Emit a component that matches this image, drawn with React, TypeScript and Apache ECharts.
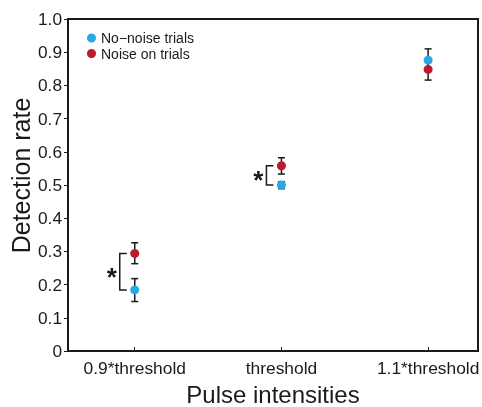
import React, { useEffect, useRef } from "react";
import * as echarts from "echarts";

const categories = ["0.9*threshold", "threshold", "1.1*threshold"];
const categoryPositions = [1, 2, 3];
const noNoiseValues = [0.184, 0.5, 0.876];
const noNoiseLow = [0.149, 0.489, 0.845];
const noNoiseHigh = [0.218, 0.51, 0.91];
const noiseValues = [0.294, 0.558, 0.848];
const noiseLow = [0.263, 0.533, 0.816];
const noiseHigh = [0.326, 0.582, 0.878];
// significance brackets: [category position, lower y, upper y]
const brackets = [
  [1, 0.184, 0.294],
  [2, 0.5, 0.558],
];

const BLUE = "#2aa9e0";
const RED = "#bd1b2b";
const FONT = "Liberation Sans, Arial, Helvetica, sans-serif";

export default function App() {
  const ref = useRef<HTMLDivElement>(null);
  useEffect(() => {
    const chart = echarts.init(ref.current!, null, { renderer: "svg" });
    const errData = [
      ...categoryPositions.map((x, i) => [x, noNoiseLow[i], noNoiseHigh[i]]),
      ...categoryPositions.map((x, i) => [x, noiseLow[i], noiseHigh[i]]),
    ];
    const errRender = (params: any, api: any) => {
      const x = api.value(0);
      const lo = api.coord([x, api.value(1)]);
      const hi = api.coord([x, api.value(2)]);
      const hw = 3.5;
      const style = { stroke: "#1a1a1a", lineWidth: 1.5 };
      return {
        type: "group",
        children: [
          { type: "line", shape: { x1: lo[0], y1: lo[1], x2: hi[0], y2: hi[1] }, style },
          { type: "line", shape: { x1: lo[0] - hw, y1: lo[1], x2: lo[0] + hw, y2: lo[1] }, style },
          { type: "line", shape: { x1: hi[0] - hw, y1: hi[1], x2: hi[0] + hw, y2: hi[1] }, style },
        ],
      };
    };
    const bracketRender = (params: any, api: any) => {
      const x = api.value(0);
      const lo = api.coord([x, api.value(1)]);
      const hi = api.coord([x, api.value(2)]);
      const vx = lo[0] - 15;
      const hx = lo[0] - 8;
      const style = { stroke: "#1a1a1a", lineWidth: 1.5, fill: "none" };
      return {
        type: "group",
        children: [
          {
            type: "polyline",
            shape: { points: [[hx, hi[1]], [vx, hi[1]], [vx, lo[1]], [hx, lo[1]]] },
            style,
          },
          {
            type: "text",
            x: vx - 8,
            y: (lo[1] + hi[1]) / 2 + 5,
            style: {
              text: "*",
              fill: "#1a1a1a",
              font: `bold 26px ${FONT}`,
              align: "center",
              verticalAlign: "middle",
            },
          },
        ],
      };
    };
    chart.setOption({
      animation: false,
      grid: {
        left: 68,
        right: 4,
        top: 19,
        bottom: 56,
        show: true,
        borderColor: "#1a1a1a",
        borderWidth: 2,
        outerBoundsMode: "none",
        containLabel: false,
      },
      graphic: [
        {
          type: "text",
          x: 21,
          y: 175.5,
          rotation: Math.PI / 2,
          style: {
            text: "Detection rate",
            fill: "#1a1a1a",
            font: `25px ${FONT}`,
            align: "center",
            verticalAlign: "middle",
          },
        },
      ],
      legend: {
        orient: "vertical",
        left: 82,
        top: 26,
        itemGap: 1.5,
        itemWidth: 9,
        itemHeight: 9,
        icon: "circle",
        textStyle: { fontSize: 14, fontFamily: FONT, color: "#1a1a1a" },
        data: ["No\u2212noise trials", "Noise on trials"],
      },
      xAxis: {
        type: "value",
        min: 0.545,
        max: 3.34,
        splitLine: { show: false },
        axisLine: { lineStyle: { color: "#1a1a1a", width: 2 } },
        axisTick: { inside: true, length: 4, customValues: categoryPositions, lineStyle: { color: "#1a1a1a" } },
        axisLabel: {
          customValues: categoryPositions,
          formatter: (v: number) => categories[categoryPositions.indexOf(Math.round(v))] ?? "",
          fontSize: 17.4,
          fontFamily: FONT,
          color: "#1a1a1a",
          margin: 8,
          hideOverlap: false,
        },
        name: "Pulse intensities",
        nameLocation: "middle",
        nameGap: 31,
        nameTextStyle: { fontSize: 24, fontFamily: FONT, color: "#1a1a1a" },
      },
      yAxis: {
        type: "value",
        min: 0,
        max: 1,
        interval: 0.1,
        splitLine: { show: false },
        axisLine: { lineStyle: { color: "#1a1a1a", width: 2 } },
        axisTick: { length: 4, lineStyle: { color: "#1a1a1a" } },
        axisLabel: {
          formatter: (v: number) => (v === 0 ? "0" : v.toFixed(1)),
          fontSize: 17.3,
          fontFamily: FONT,
          color: "#1a1a1a",
          margin: 6,
        },
      },
      series: [
        {
          type: "custom",
          renderItem: errRender,
          data: errData,
          z: 2,
          silent: true,
        },
        {
          type: "custom",
          renderItem: bracketRender,
          data: brackets,
          z: 2,
          silent: true,
        },
        {
          name: "No\u2212noise trials",
          type: "scatter",
          symbolSize: 9,
          itemStyle: { color: BLUE, opacity: 1 },
          data: categoryPositions.map((x, i) => [x, noNoiseValues[i]]),
          z: 3,
        },
        {
          name: "Noise on trials",
          type: "scatter",
          symbolSize: 9,
          itemStyle: { color: RED, opacity: 1 },
          data: categoryPositions.map((x, i) => [x, noiseValues[i]]),
          z: 3,
        },
      ],
    });
    return () => chart.dispose();
  }, []);
  return (
    <div
      ref={ref}
      style={{ position: "fixed", left: 0, top: 0, width: 482, height: 407 }}
    />
  );
}
